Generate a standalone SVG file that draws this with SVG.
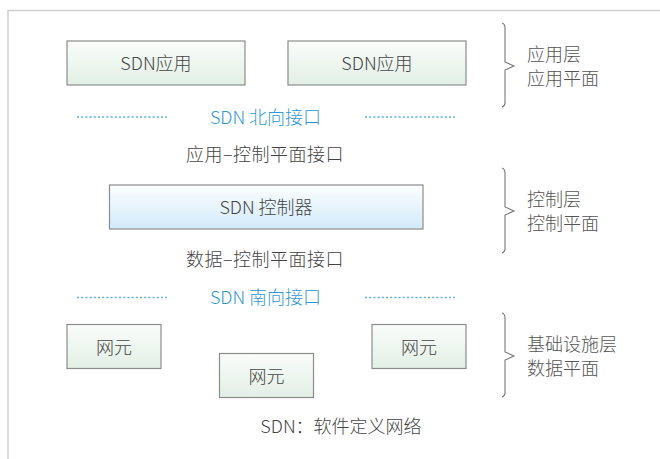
<svg xmlns="http://www.w3.org/2000/svg" width="660" height="459" viewBox="0 0 660 459">
<defs>
<linearGradient id="gGreen" x1="0" y1="0" x2="0" y2="1"><stop offset="0" stop-color="#fafcfa"/><stop offset="1" stop-color="#e2efe5"/></linearGradient>
<linearGradient id="gBlue" x1="0" y1="0" x2="0" y2="1"><stop offset="0" stop-color="#fcfeff"/><stop offset="1" stop-color="#d2eaf8"/></linearGradient>
</defs>
<style>
.t{font-family:"Noto Sans CJK SC","Noto Sans",sans-serif;font-size:18px;font-weight:300;fill:#444;text-anchor:middle}
.tl{font-family:"Noto Sans CJK SC","Noto Sans",sans-serif;font-size:18px;font-weight:300;fill:#555;}
.b{font-family:"Noto Sans CJK SC","Noto Sans",sans-serif;font-size:18px;font-weight:300;fill:#2f98d4;text-anchor:middle}
.ng{fill:url(#gGreen);stroke:#8c8c8c;stroke-width:1.2}
.nb{fill:url(#gBlue);stroke:#8c8c8c;stroke-width:1.2}
.dot{stroke:#5ab2e2;stroke-width:1.6;stroke-dasharray:2 2.2;fill:none}
.br{fill:none;stroke:#777;stroke-width:1.1}
</style>
<rect width="660" height="459" fill="#fff"/>
<path d="M8,460 V10.5 H660" fill="none" stroke="#cfcfcf" stroke-width="1.5"/>
<g id="app1"><rect class="ng" x="67" y="41" width="178" height="44"/><text class="t" x="156" y="70">SDN应用</text></g>
<g id="app2"><rect class="ng" x="288" y="41" width="178" height="44"/><text class="t" x="377" y="70">SDN应用</text></g>
<g id="controller"><rect class="nb" x="109.5" y="185" width="313.5" height="44"/><text class="t" x="266" y="214">SDN 控制器</text></g>
<g id="ne1"><rect class="ng" x="67" y="324.5" width="94" height="44"/><text class="t" x="114" y="354">网元</text></g>
<g id="ne2"><rect class="ng" x="219.5" y="353.5" width="94" height="44"/><text class="t" x="266.5" y="383">网元</text></g>
<g id="ne3"><rect class="ng" x="372" y="324.5" width="94" height="44"/><text class="t" x="419" y="354">网元</text></g>
<g id="connectors">
<line class="dot" x1="77" y1="117" x2="167" y2="117"/>
<line class="dot" x1="365" y1="117" x2="455" y2="117"/>
<line class="dot" x1="77" y1="297.5" x2="167" y2="297.5"/>
<line class="dot" x1="365" y1="297.5" x2="455" y2="297.5"/>
</g>
<text class="b" x="265.5" y="124">SDN 北向接口</text>
<text class="t" x="265" y="161" letter-spacing="0.5">应用–控制平面接口</text>
<text class="t" x="265" y="266" letter-spacing="0.5">数据–控制平面接口</text>
<text class="b" x="265.5" y="304">SDN 南向接口</text>
<text class="t" x="341" y="433">SDN：软件定义网络</text>
<g id="brace1"><path class="br" d="M502,23 Q505,24 505,28 V62 L514,66 L505,70 V103 Q505,106 502,107"/>
<text class="tl" x="527" y="61">应用层</text><text class="tl" x="527" y="85">应用平面</text></g>
<g id="brace2"><path class="br" d="M502,168 Q505,169 505,173 V207 L514,211 L505,215 V249 Q505,252 502,253"/>
<text class="tl" x="527" y="206">控制层</text><text class="tl" x="527" y="230">控制平面</text></g>
<g id="brace3"><path class="br" d="M502,313 Q505,314 505,318 V352 L514,356 L505,360 V393 Q505,396 502,397"/>
<text class="tl" x="527" y="351">基础设施层</text><text class="tl" x="527" y="375">数据平面</text></g>
</svg>
